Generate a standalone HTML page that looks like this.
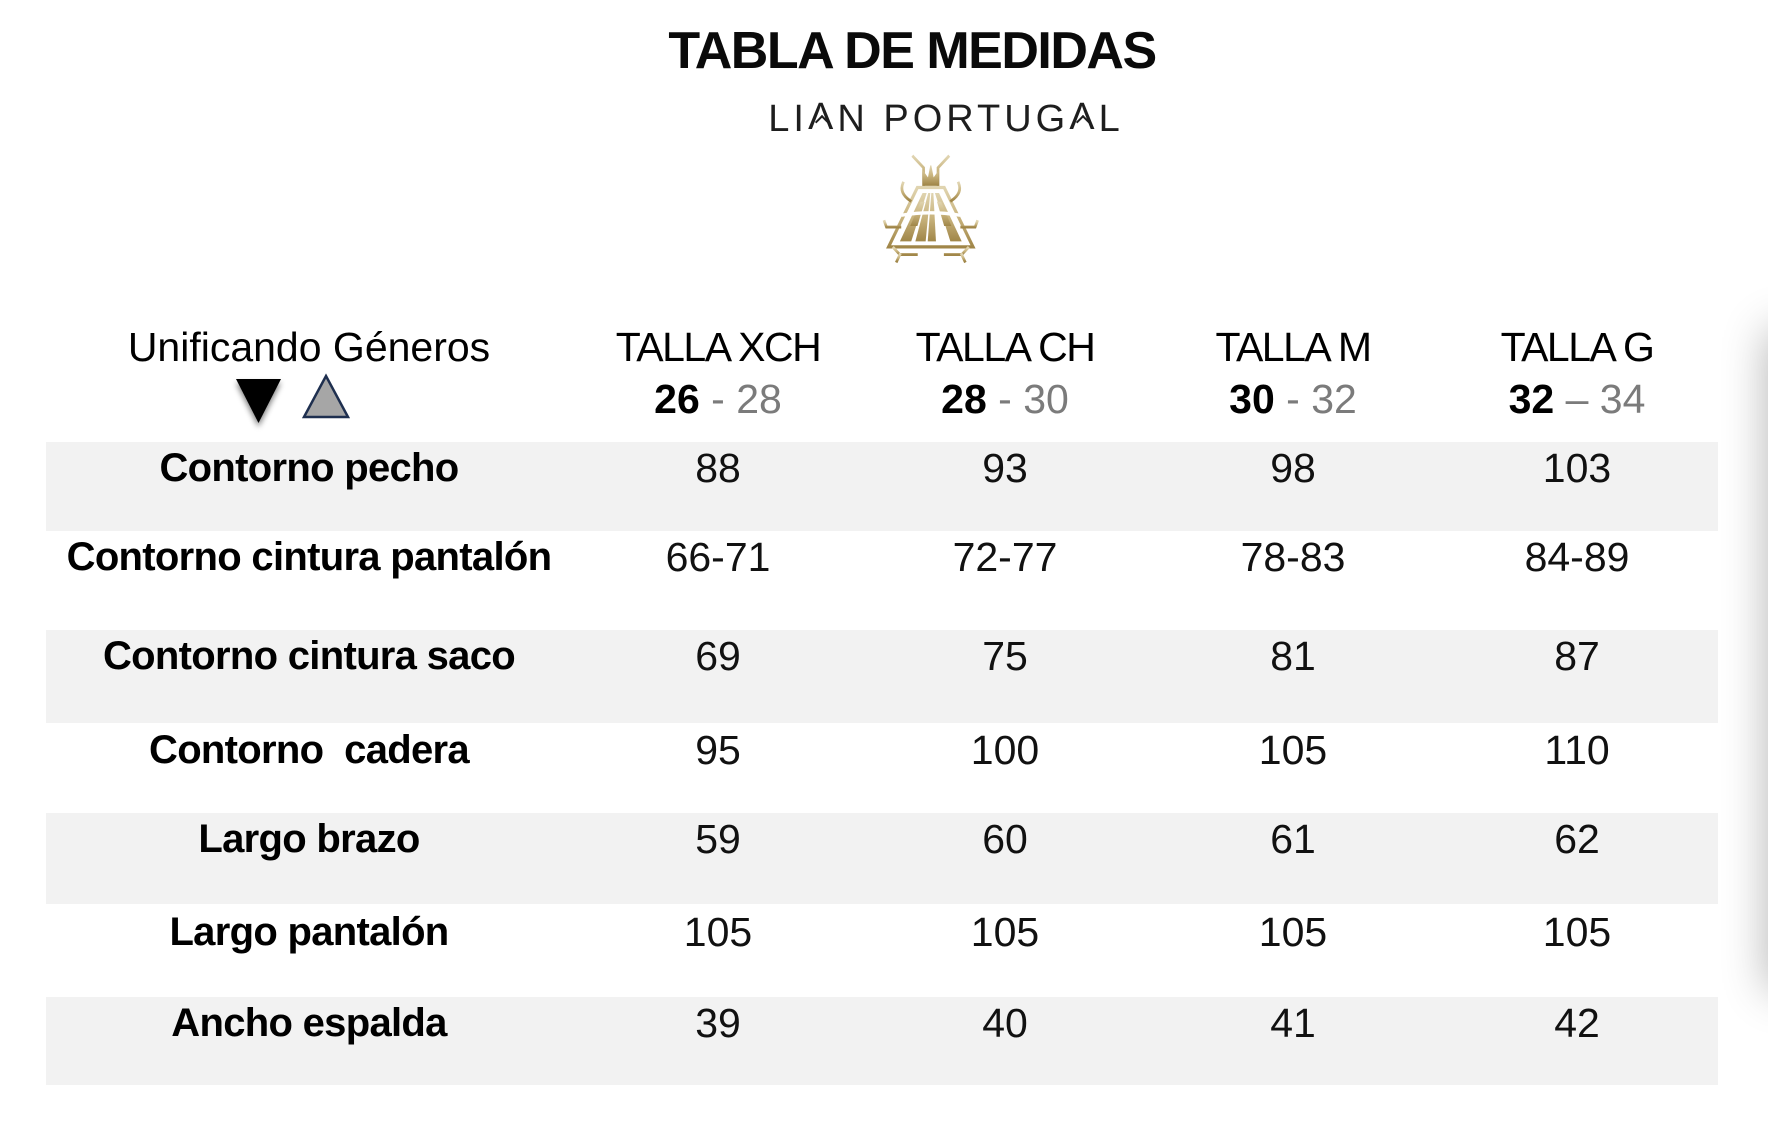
<!DOCTYPE html>
<html>
<head>
<meta charset="utf-8">
<style>
  html, body { margin:0; padding:0; width:1768px; height:1128px; overflow:hidden; background:#fff; }
  body { position:relative; font-family:"Liberation Sans", Arial, sans-serif; color:#000; }
  .abs { position:absolute; white-space:nowrap; }
  .title { left:412px; width:1000px; top:25px; font-size:52px; line-height:52px; font-weight:bold; text-align:center; letter-spacing:-1.5px; color:#0a0a0a; }
  .brand { left:442px; width:1000px; top:100px; font-size:38px; line-height:38px; text-align:center; letter-spacing:4px; padding-left:4px; color:#1e1e1e; }
  .brand .a { position:relative; color:transparent; }
  .brand .a::before { content:"\039B"; position:absolute; left:0; top:0; color:#1e1e1e; }
  .brand .a::after { content:""; position:absolute; left:50%; top:19px; width:8px; height:8px; margin-left:-6px; border-left:2px solid #1e1e1e; border-top:2px solid #1e1e1e; transform:rotate(45deg); }
  .band { position:absolute; left:46px; width:1672px; background:#f2f2f2; }
  .cell { position:absolute; width:400px; text-align:center; white-space:nowrap; }
  .hdr { font-size:41px; line-height:41px; }
  .talla { letter-spacing:-1.5px; }
  .sub b { font-weight:bold; color:#000; }
  .sub span { color:#7b7b7b; }
  .row { position:absolute; left:0; width:1768px; height:41px; }
  .lab { left:9px !important; width:600px; font-size:40px; line-height:41px; font-weight:bold; letter-spacing:-0.7px; }
  .num { font-size:41px; line-height:41px; color:#111; }
  .shadow { position:absolute; left:1778px; top:340px; width:100px; height:640px; box-shadow:0 0 45px 10px rgba(0,0,0,0.3); background:#fff; }
</style>
</head>
<body>

<!-- grey bands -->
<div class="band" style="top:442px;height:89px;"></div>
<div class="band" style="top:630px;height:93px;"></div>
<div class="band" style="top:813px;height:91px;"></div>
<div class="band" style="top:997px;height:88px;"></div>

<div class="shadow"></div>

<div class="abs title">TABLA DE MEDIDAS</div>
<div class="abs brand">LI<span class="a">A</span>N PORTUG<span class="a">A</span>L</div>

<svg class="abs" style="left:0;top:0;" width="1768" height="1128" viewBox="0 0 1768 1128">
  <defs>
    <linearGradient id="gold" x1="0" y1="0" x2="0" y2="1">
      <stop offset="0" stop-color="#e0d4b0"/>
      <stop offset="0.5" stop-color="#c9b47e"/>
      <stop offset="1" stop-color="#a08648"/>
    </linearGradient>
    <filter id="ds" x="-50%" y="-50%" width="200%" height="200%">
      <feGaussianBlur in="SourceAlpha" stdDeviation="3"/>
      <feOffset dx="0" dy="4" result="o"/>
      <feComponentTransfer><feFuncA type="linear" slope="0.5"/></feComponentTransfer>
      <feMerge><feMergeNode/><feMergeNode in="SourceGraphic"/></feMerge>
    </filter>
  </defs>

  <!-- gender triangles -->
  <polygon points="236,379 281,379 258.5,423" fill="#000" filter="url(#ds)"/>
  <polygon points="326,376 348,417 304,417" fill="#a6a6a6" stroke="#1e2f4f" stroke-width="2.5" stroke-linejoin="miter"/>

  <!-- logo -->
  <g transform="translate(869,149) scale(1.03,1.1)" fill="none" stroke="url(#gold)" stroke-linecap="square">
    <!-- antennae -->
    <path d="M43,7 L53,17 L53,33" stroke-width="2.6"/>
    <path d="M77,7 L67,17 L67,33" stroke-width="2.6"/>
    <!-- crown -->
    <path d="M53,33 L53,21 L57.5,27 L60,15 L62.5,27 L67,21 L67,33 Z" fill="url(#gold)" stroke-width="1"/>
    <!-- outer trapezoid -->
    <path d="M47,35 L73,35 L101,89 L19,89 Z" stroke-width="3"/>
    <!-- inner fill stripes -->
    <g stroke="none" fill="url(#gold)">
      <polygon points="52,40 56,40 41,84 30,84"/>
      <polygon points="57.5,40 59.5,40 55,84 45,84"/>
      <polygon points="60.5,40 62.5,40 65,84 57,84"/>
      <polygon points="64,40 68,40 90,84 79,84"/>
      <polygon points="66,48 70,48 80,70 73,70"/>
      <polygon points="54,48 50,48 40,70 47,70"/>
    </g>
    <path d="M33,60 Q60,56 87,60" stroke="#fff" stroke-width="3"/>
    <!-- upper arms -->
    <path d="M33,31 Q29,40 40,47" stroke-width="2.6"/>
    <path d="M87,31 Q91,40 80,47" stroke-width="2.6"/>
    <!-- lower arms -->
    <path d="M15,66 L17,71 L30,71" stroke-width="2.6"/>
    <path d="M105,66 L103,71 L90,71" stroke-width="2.6"/>
    <!-- legs -->
    <path d="M24,90 L30,96 L46,96" stroke-width="2.6"/>
    <path d="M30,96 L27,102" stroke-width="2.6"/>
    <path d="M96,90 L90,96 L74,96" stroke-width="2.6"/>
    <path d="M90,96 L93,102" stroke-width="2.6"/>
  </g>
</svg>

<!-- header -->
<div class="cell hdr" style="left:109px;top:327px;">Unificando Géneros</div>
<div class="cell hdr talla" style="left:518px;top:327px;">TALLA XCH</div>
<div class="cell hdr talla" style="left:805px;top:327px;">TALLA CH</div>
<div class="cell hdr talla" style="left:1093px;top:327px;">TALLA M</div>
<div class="cell hdr talla" style="left:1377px;top:327px;">TALLA G</div>

<div class="cell hdr sub" style="left:518px;top:379px;"><b>26</b><span> - 28</span></div>
<div class="cell hdr sub" style="left:805px;top:379px;"><b>28</b><span> - 30</span></div>
<div class="cell hdr sub" style="left:1093px;top:379px;"><b>30</b><span> - 32</span></div>
<div class="cell hdr sub" style="left:1377px;top:379px;"><b>32</b><span> – 34</span></div>

<!-- rows -->
<div class="row" style="top:448px;">
  <div class="cell lab">Contorno pecho</div>
  <div class="cell num" style="left:518px;">88</div>
  <div class="cell num" style="left:805px;">93</div>
  <div class="cell num" style="left:1093px;">98</div>
  <div class="cell num" style="left:1377px;">103</div>
</div>
<div class="row" style="top:537px;">
  <div class="cell lab">Contorno cintura pantalón</div>
  <div class="cell num" style="left:518px;">66-71</div>
  <div class="cell num" style="left:805px;">72-77</div>
  <div class="cell num" style="left:1093px;">78-83</div>
  <div class="cell num" style="left:1377px;">84-89</div>
</div>
<div class="row" style="top:636px;">
  <div class="cell lab">Contorno cintura saco</div>
  <div class="cell num" style="left:518px;">69</div>
  <div class="cell num" style="left:805px;">75</div>
  <div class="cell num" style="left:1093px;">81</div>
  <div class="cell num" style="left:1377px;">87</div>
</div>
<div class="row" style="top:730px;">
  <div class="cell lab">Contorno&nbsp; cadera</div>
  <div class="cell num" style="left:518px;">95</div>
  <div class="cell num" style="left:805px;">100</div>
  <div class="cell num" style="left:1093px;">105</div>
  <div class="cell num" style="left:1377px;">110</div>
</div>
<div class="row" style="top:819px;">
  <div class="cell lab">Largo brazo</div>
  <div class="cell num" style="left:518px;">59</div>
  <div class="cell num" style="left:805px;">60</div>
  <div class="cell num" style="left:1093px;">61</div>
  <div class="cell num" style="left:1377px;">62</div>
</div>
<div class="row" style="top:912px;">
  <div class="cell lab">Largo pantalón</div>
  <div class="cell num" style="left:518px;">105</div>
  <div class="cell num" style="left:805px;">105</div>
  <div class="cell num" style="left:1093px;">105</div>
  <div class="cell num" style="left:1377px;">105</div>
</div>
<div class="row" style="top:1003px;">
  <div class="cell lab">Ancho espalda</div>
  <div class="cell num" style="left:518px;">39</div>
  <div class="cell num" style="left:805px;">40</div>
  <div class="cell num" style="left:1093px;">41</div>
  <div class="cell num" style="left:1377px;">42</div>
</div>

</body>
</html>
